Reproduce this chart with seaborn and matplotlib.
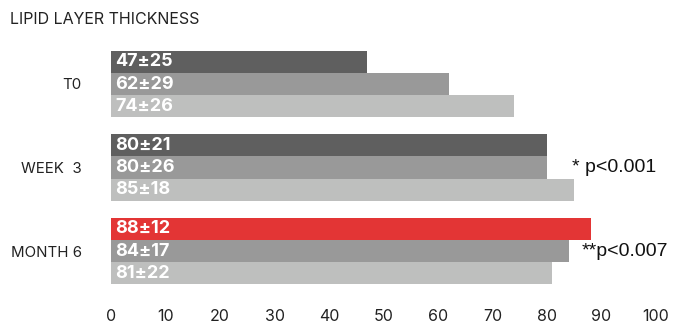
import matplotlib
matplotlib.use("Agg")
import matplotlib.pyplot as plt
import seaborn as sns
import pandas as pd

# Lipid layer thickness by visit, three measurements per visit
visits = ["T0", "WEEK  3", "MONTH 6"]
series = ["A", "B", "C"]
mean_a = [47, 80, 88]
mean_b = [62, 80, 84]
mean_c = [74, 85, 81]
sd_a = [25, 21, 12]
sd_b = [29, 26, 17]
sd_c = [26, 18, 22]
x_ticks = [0, 10, 20, 30, 40, 50, 60, 70, 80, 90, 100]
notes = ["* p<0.001", "**p<0.007"]

rows = []
for s, means, sds in zip(series, [mean_a, mean_b, mean_c], [sd_a, sd_b, sd_c]):
    for v, m, d in zip(visits, means, sds):
        rows.append({"visit": v, "series": s, "mean": m, "sd": d})
df = pd.DataFrame(rows)

sns.set_theme(style="white")
plt.rcParams["font.family"] = ["Inter", "DejaVu Sans"]

fig = plt.figure(figsize=(6.73, 3.24), dpi=100)
ax = fig.add_axes([111 / 673, 1 - 297 / 324, 545 / 673, 259 / 324])

palette = {"A": "#5f5f5f", "B": "#999999", "C": "#bebfbe"}
sns.barplot(data=df, y="visit", x="mean", hue="series", order=visits,
            hue_order=series, palette=palette, orient="h", width=0.8,
            errorbar=None, legend=False, saturation=1, linewidth=0, ax=ax)

# highlight the month-6 reading of the first series
for bar_cont, s in zip(ax.containers, series):
    for patch, v in zip(bar_cont.patches, visits):
        if s == "A" and v == "MONTH 6":
            patch.set_facecolor("#e33535")

# value labels inside the bars
for bar_cont, s in zip(ax.containers, series):
    sub = df[df.series == s].set_index("visit").loc[visits]
    for patch, (m, d) in zip(bar_cont.patches, zip(sub["mean"], sub["sd"])):
        yc = patch.get_y() + patch.get_height() / 2
        ax.text(0.8, yc, f"{m}±{d}", color="white", fontweight="bold",
                fontsize=13, va="center", ha="left")

ax.set_xlim(0, 100)
ax.set_ylim(2.55, -0.55)
ax.set_xticks(x_ticks)
ax.set_xlabel("")
ax.set_ylabel("")
for sp in ax.spines.values():
    sp.set_visible(False)
ax.tick_params(axis="x", length=0, pad=8.5, labelsize=11.5, colors="#222222")
ax.tick_params(axis="y", length=0, pad=21, labelsize=10.8, colors="#222222")

ax.text(84.5, 1.0, notes[0], fontsize=14, va="center", ha="left",
        family=["Liberation Sans", "DejaVu Sans"], color="#111111")
ax.text(86.3, 2.0, notes[1], fontsize=14, va="center", ha="left",
        family=["Liberation Sans", "DejaVu Sans"], color="#111111")

fig.text(10 / 673, 1 - 20 / 324, "LIPID LAYER THICKNESS", fontsize=11.5,
         va="center", ha="left", color="#222222")

fig.savefig("out.png", dpi=100)
